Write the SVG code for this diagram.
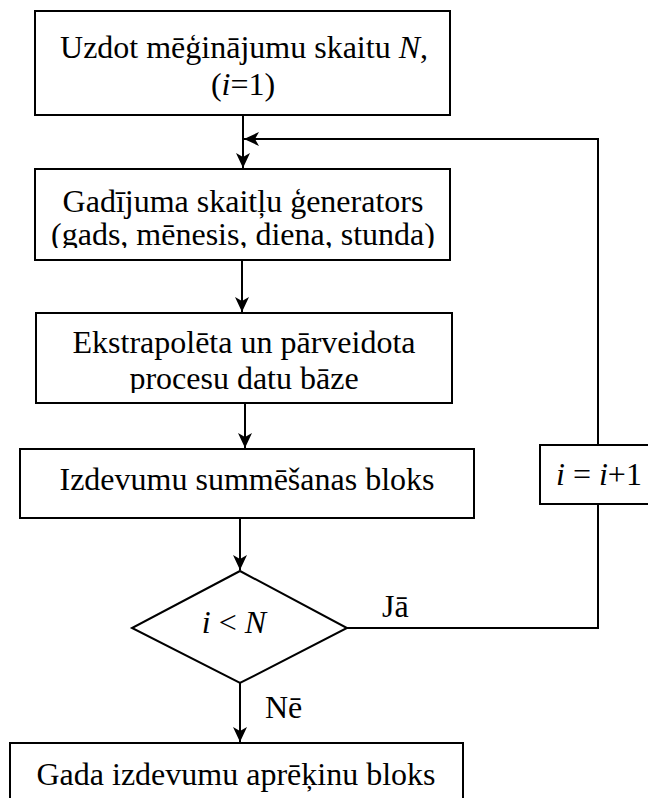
<svg xmlns="http://www.w3.org/2000/svg" width="648" height="798" viewBox="0 0 648 798">
<style>
.box{fill:#fff;stroke:#000;stroke-width:2}
.ln{fill:none;stroke:#000;stroke-width:2}
text{font-family:"Liberation Serif","Times New Roman",serif;font-size:32px;fill:#000}
.c{text-anchor:middle}
.it{font-style:italic}
</style>
<defs>
<marker id="ah" viewBox="0 0 15 14" refX="15" refY="7" markerWidth="15" markerHeight="14" markerUnits="userSpaceOnUse" orient="auto">
<path d="M0,0 L15,7 L0,14 L4,7 Z" fill="#000"/>
</marker>
<clipPath id="c2"><rect x="36" y="170" width="413" height="78"/></clipPath>
<clipPath id="c3"><rect x="37" y="314" width="414" height="79"/></clipPath>
</defs>
<rect width="648" height="798" fill="#fff"/>
<g id="connectors">
<line class="ln" x1="243" y1="115" x2="243" y2="168" marker-end="url(#ah)"/>
<polyline class="ln" points="598,445 598,139 244,139" marker-end="url(#ah)"/>
<line class="ln" x1="242" y1="260" x2="242" y2="312" marker-end="url(#ah)"/>
<line class="ln" x1="245" y1="403" x2="245" y2="448" marker-end="url(#ah)"/>
<line class="ln" x1="240" y1="518" x2="240" y2="570" marker-end="url(#ah)"/>
<polyline class="ln" points="347,628 598,628 598,504"/>
<line class="ln" x1="240" y1="683" x2="240" y2="742" marker-end="url(#ah)"/>
<text x="382" y="617">Jā</text>
<text x="265" y="718">Nē</text>
</g>
<g id="n1">
<rect class="box" x="35" y="11" width="415" height="104"/>
<text class="c"><tspan x="244" y="58">Uzdot mēģinājumu skaitu <tspan class="it">N</tspan>,</tspan><tspan x="243" y="95">(<tspan class="it">i</tspan>=1)</tspan></text>
</g>
<g id="n2">
<rect class="box" x="35" y="169" width="415" height="91"/>
<g clip-path="url(#c2)">
<text class="c"><tspan x="243" y="212">Gadījuma skaitļu ģenerators</tspan><tspan x="243" y="245">(gads, mēnesis, diena, stunda)</tspan></text>
</g>
</g>
<g id="n3">
<rect class="box" x="36" y="313" width="416" height="90"/>
<g clip-path="url(#c3)">
<text class="c"><tspan x="244" y="353">Ekstrapolēta un pārveidota</tspan><tspan x="244" y="389">procesu datu bāze</tspan></text>
</g>
</g>
<g id="n4">
<rect class="box" x="20" y="449" width="454" height="69"/>
<text class="c" x="247" y="490">Izdevumu summēšanas bloks</text>
</g>
<g id="n5">
<rect class="box" x="540" y="445" width="120" height="59"/>
<text x="556" y="485"><tspan class="it">i</tspan> = <tspan class="it">i</tspan>+1</text>
</g>
<g id="n6">
<polygon class="box" points="240,571 347,628 240,683 132,628"/>
<text class="c" x="234" y="633"><tspan class="it">i</tspan> &lt; <tspan class="it">N</tspan></text>
</g>
<g id="n7">
<rect class="box" x="10" y="743" width="453" height="70"/>
<text class="c" x="236" y="785">Gada izdevumu aprēķinu bloks</text>
</g>
</svg>
